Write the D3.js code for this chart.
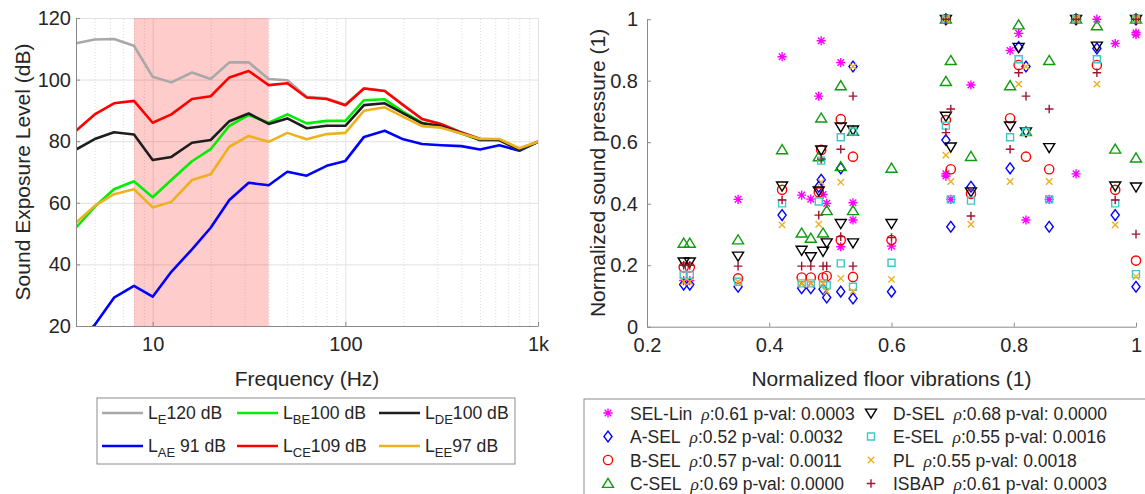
<!DOCTYPE html>
<html>
<head>
<meta charset="utf-8">
<script src="https://cdn.jsdelivr.net/npm/d3@7"></script>
<style>
  body { margin: 0; background: #fff; }
  text { font-family: "Liberation Sans", Arial, sans-serif; fill: #262626; }
</style>
</head>
<body>
<svg id="chart" width="1145" height="494"></svg>
<script>
// ---------- left panel: 1/3 octave band levels ----------
var freqs = [4, 5, 6.3, 8, 10, 12.5, 16, 20, 25, 31.5, 40, 50, 63, 80, 100, 125, 160, 200, 250, 315, 400, 500, 630, 800, 1000];
var levelE  = [111.8, 113.0, 113.2, 111.0, 100.9, 99.1, 102.3, 100.2, 105.6, 105.6, 100.2, 99.8, 94.4, 93.9, 91.9, 97.2, 96.4, 91.8, 87.3, 85.6, 82.9, 80.8, 80.5, 77.5, 79.9];
var levelAE = [15.0, 20.3, 29.2, 33.0, 29.5, 37.6, 44.9, 51.9, 60.9, 66.5, 65.7, 70.1, 68.8, 72.0, 73.6, 81.4, 83.4, 80.6, 79.1, 78.7, 78.4, 77.3, 78.7, 76.9, 79.8];
var levelBE = [51.9, 58.7, 64.4, 67.0, 61.8, 67.4, 73.5, 77.4, 85.0, 88.5, 86.0, 88.7, 85.8, 86.6, 86.6, 93.3, 93.6, 89.5, 86.0, 84.7, 82.5, 80.4, 80.4, 77.1, 79.8];
var levelCE = [83.4, 88.7, 92.3, 93.1, 86.0, 88.7, 93.7, 94.6, 100.7, 102.8, 98.2, 98.8, 94.2, 93.7, 91.7, 97.1, 96.3, 91.7, 87.2, 85.5, 82.8, 80.7, 80.4, 77.4, 79.8];
var levelDE = [77.3, 80.7, 82.9, 82.2, 73.9, 74.9, 79.5, 80.4, 86.5, 89.0, 85.6, 87.4, 84.2, 85.0, 85.0, 91.7, 92.3, 89.0, 85.8, 84.9, 82.7, 80.4, 80.4, 77.1, 79.8];
var levelEE = [53.5, 59.0, 62.8, 64.4, 58.5, 60.3, 67.4, 69.3, 78.2, 81.7, 79.8, 82.7, 80.6, 82.3, 82.7, 89.9, 91.0, 87.9, 84.9, 84.4, 82.5, 80.7, 80.7, 77.7, 79.8];
var levelSubs   = ["E", "AE", "BE", "CE", "DE", "EE"];
var levelTotals = ["120 dB", " 91 dB", "100 dB", "109 dB", "100 dB", "97 dB"];
var levelColors = ["#a8a8a8", "#0000ff", "#00ee00", "#ff0000", "#1e1e1e", "#edb120"];
var shadeBand = [8, 40];
var levelTicks = [20, 40, 60, 80, 100, 120];
var freqTicks = [10, 100, 1000];
var freqTickLabels = ["10", "100", "1k"];

// ---------- right panel: normalized scatter ----------
var floorVib = [0.260, 0.270, 0.349, 0.421, 0.453, 0.468, 0.485, 0.481, 0.488, 0.494, 0.517, 0.517, 0.537, 0.537,
                0.600, 0.689, 0.689, 0.697, 0.730, 0.794, 0.808, 0.820, 0.858, 0.902, 0.936, 0.966, 1.000, 1.000];
var selLin = [0.150, 0.150, 0.414, 0.878, 0.428, 0.415, 0.930, 0.750, 0.430, 0.401, 0.859, 0.260, 0.403, 0.347,
              0.262, 0.497, 0.490, 0.414, 0.786, 0.898, 0.954, 0.347, 0.414, 0.497, 1.000, 0.921, 0.956, 0.950];
var aSel   = [0.137, 0.137, 0.130, 0.363, 0.125, 0.125, 0.478, 0.455, 0.122, 0.095, 0.515, 0.114, 0.846, 0.092,
              0.114, 1.000, 0.607, 0.325, 0.455, 0.515, 0.909, 0.846, 0.325, 1.000, 0.905, 0.363, 1.000, 0.130];
var bSel   = [0.193, 0.193, 0.157, 0.445, 0.160, 0.160, 0.575, 0.437, 0.160, 0.165, 0.675, 0.282, 0.553, 0.162,
              0.282, 1.000, 0.672, 0.512, 0.432, 0.678, 0.851, 0.553, 0.512, 1.000, 0.851, 0.445, 1.000, 0.215];
var cSel   = [0.271, 0.271, 0.282, 0.575, 0.304, 0.287, 0.678, 0.552, 0.304, 0.377, 0.783, 0.520, 0.635, 0.377,
              0.515, 1.000, 0.797, 0.865, 0.553, 0.783, 0.981, 0.634, 0.865, 1.000, 0.978, 0.577, 1.000, 0.548];
var dSel   = [0.211, 0.211, 0.230, 0.458, 0.249, 0.228, 0.575, 0.442, 0.246, 0.273, 0.650, 0.336, 0.640, 0.273,
              0.336, 1.000, 0.685, 0.585, 0.439, 0.653, 0.909, 0.634, 0.583, 1.000, 0.913, 0.458, 1.000, 0.455];
var eSel   = [0.168, 0.168, 0.146, 0.401, 0.141, 0.141, 0.540, 0.407, 0.141, 0.135, 0.616, 0.206, 0.635, 0.130,
              0.208, 1.000, 0.654, 0.414, 0.410, 0.616, 0.870, 0.634, 0.414, 1.000, 0.870, 0.401, 1.000, 0.171];
var plVal  = [0.146, 0.146, 0.146, 0.331, 0.141, 0.141, 0.470, 0.333, 0.141, 0.115, 0.470, 0.157, 0.846, 0.115,
              0.154, 1.000, 0.558, 0.472, 0.333, 0.472, 0.789, 0.846, 0.472, 1.000, 0.789, 0.331, 1.000, 0.163];
var isbap  = [0.200, 0.200, 0.197, 0.412, 0.197, 0.197, 0.545, 0.363, 0.197, 0.197, 0.577, 0.293, 0.750, 0.197,
              0.290, 1.000, 0.631, 0.708, 0.360, 0.577, 0.826, 0.750, 0.708, 1.000, 0.826, 0.412, 1.000, 0.301];
var seriesNames  = ["SEL-Lin", "A-SEL", "B-SEL", "C-SEL", "D-SEL", "E-SEL", "PL", "ISBAP"];
var seriesRho    = ["0.61", "0.52", "0.57", "0.69", "0.68", "0.55", "0.55", "0.61"];
var seriesPval   = ["0.0003", "0.0032", "0.0011", "0.0000", "0.0000", "0.0016", "0.0018", "0.0003"];
var seriesColors = ["#ff00ff", "#0000ff", "#ff0000", "#109a10", "#000000", "#3cc8c8", "#edb120", "#a2142f"];
var pressureTicks = [0, 0.2, 0.4, 0.6, 0.8, 1];
var vibTicks = [0.2, 0.4, 0.6, 0.8, 1];

// matlab-like marker shapes, size = radius
var symAsterisk = { draw: function (c, r) {
  var d = r * 0.72;
  c.moveTo(-r, 0); c.lineTo(r, 0); c.moveTo(0, -r); c.lineTo(0, r);
  c.moveTo(-d, -d); c.lineTo(d, d); c.moveTo(-d, d); c.lineTo(d, -d);
}};
var symDiamond = { draw: function (c, r) {
  c.moveTo(0, -r * 1.2); c.lineTo(r * 0.9, 0); c.lineTo(0, r * 1.2); c.lineTo(-r * 0.9, 0); c.closePath();
}};
var symCircle = { draw: function (c, r) { c.moveTo(r, 0); c.arc(0, 0, r, 0, 2 * Math.PI); c.closePath(); }};
var symTriUp = { draw: function (c, r) {
  c.moveTo(0, -r * 0.95); c.lineTo(r, r * 0.7); c.lineTo(-r, r * 0.7); c.closePath();
}};
var symTriDown = { draw: function (c, r) {
  c.moveTo(0, r * 0.95); c.lineTo(r, -r * 0.7); c.lineTo(-r, -r * 0.7); c.closePath();
}};
var symSquare = { draw: function (c, r) { c.rect(-r, -r, 2 * r, 2 * r); }};
var symX = { draw: function (c, r) { c.moveTo(-r, -r); c.lineTo(r, r); c.moveTo(-r, r); c.lineTo(r, -r); }};
var symPlus = { draw: function (c, r) { c.moveTo(-r, 0); c.lineTo(r, 0); c.moveTo(0, -r); c.lineTo(0, r); }};
var seriesSymbols = [symAsterisk, symDiamond, symCircle, symTriUp, symTriDown, symSquare, symX, symPlus];
var seriesSizes = [4.6, 4.5, 4.6, 5.5, 5.5, 3.5, 3.2, 4.3];

var tickFont = 20, labelFont = 21;
var axColor = "#8a8a8a";

function styleAxis(g) {
  g.select(".domain").attr("stroke", axColor);
  g.selectAll("line").attr("stroke", axColor);
  g.selectAll("text").attr("font-size", tickFont).attr("fill", "#262626")
    .style("font-family", "'Liberation Sans', Arial, sans-serif");
}

var svg = d3.select("#chart");

// =============== left panel ===============
var L = { left: 76, right: 538, top: 18, bottom: 326 };
var x1 = d3.scaleLog().domain([4, 1000]).range([L.left, L.right]);
var y1 = d3.scaleLinear().domain([20, 120]).range([L.bottom, L.top]);

svg.append("defs").append("clipPath").attr("id", "clipL").append("rect")
  .attr("x", L.left).attr("y", L.top)
  .attr("width", L.right - L.left).attr("height", L.bottom - L.top);

// minor vertical grid (dotted)
var minorFreqs = [];
[1, 10, 100].forEach(function (dec) {
  for (var k = 2; k <= 9; k++) { if (k * dec > 4 && k * dec < 1000) minorFreqs.push(k * dec); }
});
svg.append("g")
  .attr("transform", "translate(0," + L.bottom + ")")
  .call(d3.axisBottom(x1).tickValues(minorFreqs).tickSize(-(L.bottom - L.top)).tickFormat(""))
  .call(function (g) { g.select(".domain").remove(); })
  .selectAll("line").attr("stroke", "#dcdcdc").attr("stroke-dasharray", "1,2");

// major grid
svg.append("g")
  .attr("transform", "translate(0," + L.bottom + ")")
  .call(d3.axisBottom(x1).tickValues(freqTicks).tickSize(-(L.bottom - L.top)).tickFormat(""))
  .call(function (g) { g.select(".domain").remove(); })
  .selectAll("line").attr("stroke", "#e2e2e2");
svg.append("g")
  .attr("transform", "translate(" + L.left + ",0)")
  .call(d3.axisLeft(y1).tickValues(levelTicks).tickSize(-(L.right - L.left)).tickFormat(""))
  .call(function (g) { g.select(".domain").remove(); })
  .selectAll("line").attr("stroke", "#e2e2e2");

// shaded band 8-40 Hz
svg.append("rect")
  .attr("x", x1(shadeBand[0])).attr("y", L.top)
  .attr("width", x1(shadeBand[1]) - x1(shadeBand[0]))
  .attr("height", L.bottom - L.top)
  .attr("fill", "#ff0000").attr("fill-opacity", 0.2);

// curves
var levelSeries = [levelE, levelAE, levelBE, levelCE, levelDE, levelEE];
var line1 = d3.line().x(function (d, i) { return x1(freqs[i]); }).y(function (d) { return y1(d); });
svg.append("g").attr("clip-path", "url(#clipL)")
  .selectAll("path").data(levelSeries).enter().append("path")
  .attr("d", line1)
  .attr("fill", "none")
  .attr("stroke", function (d, i) { return levelColors[i]; })
  .attr("stroke-width", 2.6)
  .attr("stroke-linejoin", "round");

// axes
svg.append("g")
  .attr("transform", "translate(0," + L.bottom + ")")
  .call(d3.axisBottom(x1).tickValues(freqTicks).tickSizeInner(-4).tickSizeOuter(0).tickPadding(11)
    .tickFormat(function (d, i) { return freqTickLabels[i]; }))
  .call(styleAxis);
svg.append("g")
  .attr("transform", "translate(" + L.left + ",0)")
  .call(d3.axisLeft(y1).tickValues(levelTicks).tickSizeInner(-4).tickSizeOuter(0).tickPadding(5))
  .call(styleAxis);

svg.append("text")
  .attr("x", (L.left + L.right) / 2).attr("y", 386)
  .attr("text-anchor", "middle").attr("font-size", labelFont)
  .text("Frequency (Hz)");
svg.append("text")
  .attr("transform", "translate(30," + ((L.top + L.bottom) / 2) + ") rotate(-90)")
  .attr("text-anchor", "middle").attr("font-size", labelFont)
  .text("Sound Exposure Level (dB)");

// legend (two rows, column-major)
svg.append("rect")
  .attr("x", 97).attr("y", 398).attr("width", 418).attr("height", 66)
  .attr("fill", "#fff").attr("stroke", "#8c8c8c");
var legColX = [102, 237, 379];
var legRowY = [413, 446];
levelSubs.forEach(function (sub, i) {
  var cx = legColX[Math.floor(i / 2)], cy = legRowY[i % 2];
  svg.append("line")
    .attr("x1", cx).attr("x2", cx + 41).attr("y1", cy).attr("y2", cy)
    .attr("stroke", levelColors[i]).attr("stroke-width", 2.6);
  var t = svg.append("text").attr("x", cx + 46).attr("y", cy + 6).attr("font-size", 17.6);
  t.append("tspan").text("L");
  t.append("tspan").attr("font-size", 13).attr("dy", 5).text(sub);
  t.append("tspan").attr("dy", -5).text(levelTotals[i]);
});

// =============== right panel ===============
var R = { left: 647, right: 1136, top: 19.2, bottom: 326.7 };
var x2 = d3.scaleLinear().domain([0.2, 1]).range([R.left, R.right]);
var y2 = d3.scaleLinear().domain([0, 1]).range([R.bottom, R.top]);

svg.append("g")
  .attr("transform", "translate(0," + R.bottom + ")")
  .call(d3.axisBottom(x2).tickValues(vibTicks).tickSizeInner(-4).tickSizeOuter(0).tickPadding(11)
    .tickFormat(d3.format("~g")))
  .call(styleAxis);
svg.append("g")
  .attr("transform", "translate(" + R.left + ",0)")
  .call(d3.axisLeft(y2).tickValues(pressureTicks).tickSizeInner(-4).tickSizeOuter(0).tickPadding(9)
    .tickFormat(d3.format("~g")))
  .call(styleAxis);

svg.append("text")
  .attr("x", (R.left + R.right) / 2).attr("y", 386)
  .attr("text-anchor", "middle").attr("font-size", labelFont)
  .text("Normalized floor vibrations (1)");
svg.append("text")
  .attr("transform", "translate(605," + ((R.top + R.bottom) / 2) + ") rotate(-90)")
  .attr("text-anchor", "middle").attr("font-size", labelFont)
  .text("Normalized sound pressure (1)");

var scatterSeries = [selLin, aSel, bSel, cSel, dSel, eSel, plVal, isbap];
scatterSeries.forEach(function (vals, s) {
  var sym = d3.symbol().type(seriesSymbols[s]).size(seriesSizes[s]);
  svg.append("g").selectAll("path").data(vals).enter().append("path")
    .attr("transform", function (d, i) { return "translate(" + x2(floorVib[i]) + "," + y2(d) + ")"; })
    .attr("d", sym)
    .attr("fill", "none")
    .attr("stroke", seriesColors[s])
    .attr("stroke-width", 1.4);
});

// legend (four rows, column-major)
svg.append("rect")
  .attr("x", 584).attr("y", 399).attr("width", 580).attr("height", 110)
  .attr("fill", "#fff").attr("stroke", "#8c8c8c");
var sLegMarkX = [608, 871], sLegTextX = [630, 893];
var sLegRowY = [413, 436.5, 460, 483.5];
seriesNames.forEach(function (name, i) {
  var col = Math.floor(i / 4), cy = sLegRowY[i % 4];
  svg.append("path")
    .attr("transform", "translate(" + sLegMarkX[col] + "," + cy + ")")
    .attr("d", d3.symbol().type(seriesSymbols[i]).size(seriesSizes[i]))
    .attr("fill", "none").attr("stroke", seriesColors[i]).attr("stroke-width", 1.4);
  var t = svg.append("text").attr("x", sLegTextX[col]).attr("y", cy + 6.5).attr("font-size", 17.5);
  t.append("tspan").text(name);
  t.append("tspan").attr("dx", 9).style("font-family", "'Liberation Serif', 'DejaVu Serif', serif")
    .attr("font-style", "italic").text("\u03c1");
  t.append("tspan").text(":" + seriesRho[i] + " p-val: " + seriesPval[i]);
});
</script>
</body>
</html>
